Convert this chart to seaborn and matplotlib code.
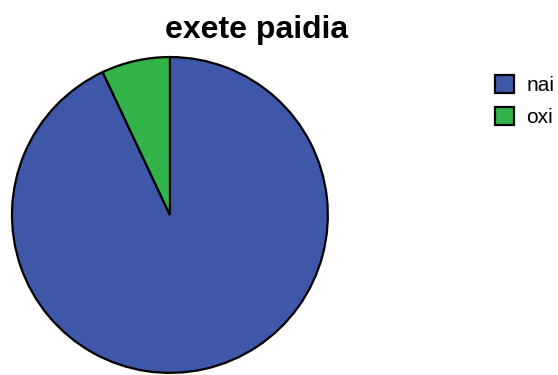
import matplotlib
matplotlib.use("Agg")
import matplotlib.pyplot as plt
import seaborn as sns
from matplotlib.patches import Patch

labels = ["nai", "oxi"]
values = [93, 7]
colors = ["#3f57a8", "#32b34a"]
title = "exete paidia"

sns.set_theme(style="white")
plt.rcParams["font.family"] = ["Liberation Sans", "DejaVu Sans"]
plt.rcParams["text.color"] = "black"

fig = plt.figure(figsize=(5.58, 3.75), dpi=100)
ax = fig.add_axes([0.0215, 0.0053, 0.566, 0.843])

wedges, _ = ax.pie(values, colors=colors, startangle=90, counterclock=False,
                   wedgeprops=dict(edgecolor="black", linewidth=1.6))
for w in wedges:
    w.set_clip_on(False)
ax.set_xlim(-1, 1)
ax.set_ylim(-1, 1)
ax.set_aspect("equal")
ax.axis("off")

fig.text(0.459, 0.899, title, ha="center", va="baseline",
         fontsize=23, fontweight="bold", color="black")

handles = [Patch(facecolor=c, edgecolor="black", linewidth=1.6, label=l)
           for c, l in zip(colors, labels)]
fig.legend(handles=handles, loc="upper left", bbox_to_anchor=(0.887, 0.80),
           frameon=False, fontsize=15, handlelength=0.92, handleheight=0.92,
           handletextpad=0.58, labelspacing=0.58, borderpad=0, borderaxespad=0,
           labelcolor="black")

fig.savefig("out.png", dpi=100, facecolor="white")
